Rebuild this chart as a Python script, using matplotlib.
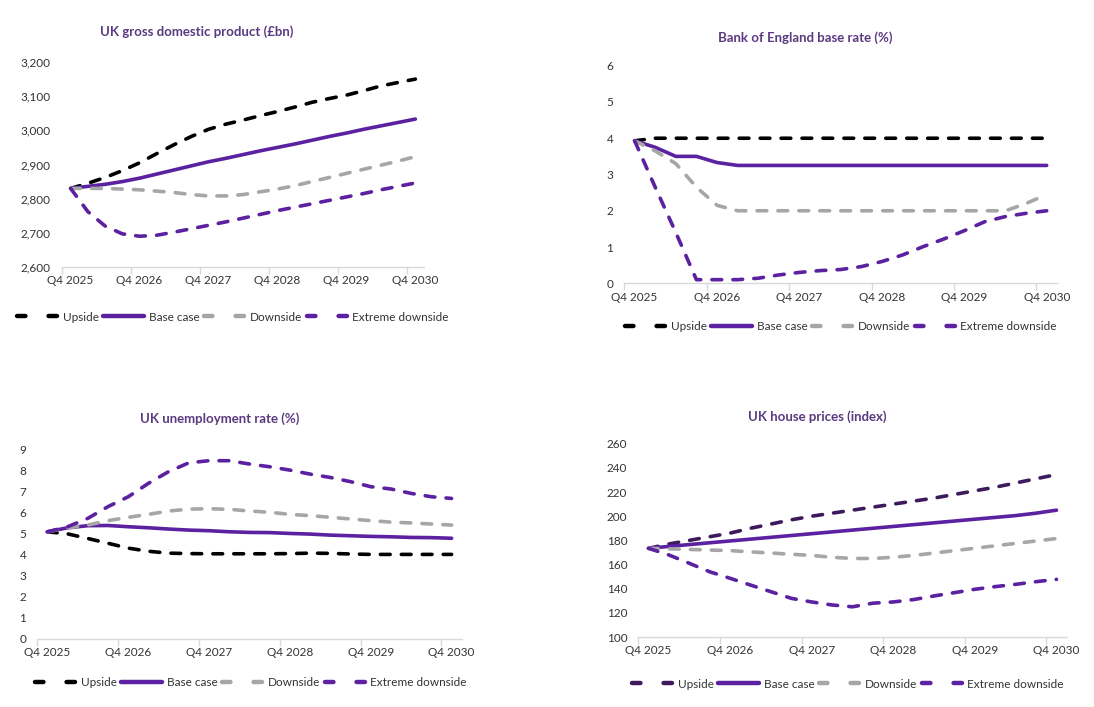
import matplotlib
matplotlib.use("Agg")
import matplotlib.pyplot as plt
from matplotlib.lines import Line2D
import numpy as np

plt.rcParams['font.family'] = ['Lato', 'DejaVu Sans']

W, H = 1094, 707

quarters = ['Q4 2025', 'Q1 2026', 'Q2 2026', 'Q3 2026', 'Q4 2026', 'Q1 2027', 'Q2 2027',
            'Q3 2027', 'Q4 2027', 'Q1 2028', 'Q2 2028', 'Q3 2028', 'Q4 2028', 'Q1 2029',
            'Q2 2029', 'Q3 2029', 'Q4 2029', 'Q1 2030', 'Q2 2030', 'Q3 2030', 'Q4 2030']
series_names = ['Upside', 'Base case', 'Downside', 'Extreme downside']

# UK GDP (£bn)
gdp_upside = [2830, 2845, 2862, 2882, 2905, 2932, 2958, 2982, 3003, 3018, 3030,
              3043, 3055, 3068, 3082, 3093, 3103, 3116, 3130, 3140, 3150]
gdp_base = [2830, 2836, 2842, 2850, 2860, 2872, 2884, 2896, 2908, 2918, 2929,
            2940, 2950, 2960, 2971, 2982, 2992, 3003, 3013, 3023, 3033]
gdp_down = [2830, 2830, 2830, 2828, 2826, 2822, 2818, 2812, 2808, 2808, 2812,
            2820, 2828, 2838, 2850, 2862, 2874, 2886, 2898, 2910, 2923]
gdp_extreme = [2830, 2762, 2720, 2697, 2690, 2693, 2702, 2712, 2722, 2732, 2743,
               2754, 2765, 2775, 2785, 2795, 2805, 2815, 2826, 2836, 2846]

# Bank of England base rate (%)
rate_upside = [3.93, 4.0, 4.0, 4.0, 4.0, 4.0, 4.0, 4.0, 4.0, 4.0, 4.0,
               4.0, 4.0, 4.0, 4.0, 4.0, 4.0, 4.0, 4.0, 4.0, 4.0]
rate_base = [3.93, 3.75, 3.5, 3.5, 3.33, 3.25, 3.25, 3.25, 3.25, 3.25, 3.25,
             3.25, 3.25, 3.25, 3.25, 3.25, 3.25, 3.25, 3.25, 3.25, 3.25]
rate_down = [3.93, 3.65, 3.3, 2.65, 2.15, 2.0, 2.0, 2.0, 2.0, 2.0, 2.0,
             2.0, 2.0, 2.0, 2.0, 2.0, 2.0, 2.0, 2.0, 2.2, 2.45]
rate_extreme = [3.93, 2.65, 1.4, 0.1, 0.1, 0.1, 0.14, 0.23, 0.3, 0.35, 0.38,
                0.46, 0.6, 0.78, 1.01, 1.22, 1.45, 1.7, 1.84, 1.93, 2.0]

# UK unemployment rate (%)
unemp_upside = [5.1, 5.0, 4.78, 4.55, 4.32, 4.17, 4.08, 4.06, 4.05, 4.05, 4.05,
                4.05, 4.06, 4.08, 4.07, 4.04, 4.02, 4.02, 4.02, 4.02, 4.02]
unemp_base = [5.1, 5.29, 5.39, 5.4, 5.34, 5.29, 5.23, 5.18, 5.15, 5.1, 5.07,
              5.06, 5.02, 4.99, 4.94, 4.91, 4.88, 4.86, 4.83, 4.82, 4.79]
unemp_down = [5.1, 5.29, 5.42, 5.63, 5.79, 5.93, 6.09, 6.18, 6.2, 6.17, 6.09,
              6.03, 5.93, 5.87, 5.79, 5.71, 5.63, 5.56, 5.52, 5.47, 5.42]
unemp_extreme = [5.1, 5.34, 5.74, 6.3, 6.77, 7.41, 7.97, 8.39, 8.49, 8.49, 8.33,
                 8.2, 8.04, 7.85, 7.69, 7.49, 7.25, 7.14, 6.93, 6.77, 6.69]

# UK house prices (index)
house_upside = [173.4, 177, 180, 183, 186, 190, 193.5, 197, 200, 202.5, 205,
                207.5, 210, 212.5, 215, 218, 221, 224, 227.5, 231, 234.5]
house_base = [173.4, 175, 176.5, 178, 179.5, 181, 182.5, 184, 185.5, 187, 188.5,
              190, 191.5, 193, 194.5, 196, 197.5, 199, 200.5, 202.5, 205]
house_down = [173.4, 173, 172.5, 172, 171.5, 170.5, 169.5, 168.5, 167.5, 166, 165,
              165, 166, 167.5, 169.5, 171.5, 173.5, 175.5, 177.5, 179.5, 181.5]
house_extreme = [173.4, 167.9, 161, 154, 148.6, 143, 137.5, 132, 129, 126.5, 125,
                 128, 129, 131, 134, 136.7, 139.5, 141.7, 143.6, 145.8, 147.7]

BLACK = '#000000'
PURPLE = '#5b21a0'
GREY = '#a6a6a6'
DARKPURPLE = '#3c1a5c'
TITLE = '#5a3a80'
TEXT = '#333333'

panels = [
    dict(title='UK gross domestic product (£bn)', data=[gdp_upside, gdp_base, gdp_down, gdp_extreme],
         box=(62, 424, 62, 267), ylim=(2600, 3200), step=100, fmt='{:,.0f}',
         title_xy=(197, 32), legend_xy=(233, 317), up_color=BLACK),
    dict(title='Bank of England base rate (%)', data=[rate_upside, rate_base, rate_down, rate_extreme],
         box=(624.3, 1057, 65.7, 283.3), ylim=(0, 6), step=1, fmt='{:.0f}',
         title_xy=(805, 38), legend_xy=(841, 327), up_color=BLACK),
    dict(title='UK unemployment rate (%)', data=[unemp_upside, unemp_base, unemp_down, unemp_extreme],
         box=(37.3, 461.7, 450, 638.7), ylim=(0, 9), step=1, fmt='{:.0f}',
         title_xy=(220, 419), legend_xy=(251, 683), up_color=BLACK),
    dict(title='UK house prices (index)', data=[house_upside, house_base, house_down, house_extreme],
         box=(638.3, 1066.7, 443.7, 637), ylim=(100, 260), step=20, fmt='{:.0f}',
         title_xy=(817, 417), legend_xy=(848, 684), up_color=DARKPURPLE),
]

fig = plt.figure(figsize=(W / 100, H / 100), dpi=100)
x = np.arange(len(quarters))
LW = 2.6
DASH = (2.7, 3.1)

for p in panels:
    l, r, t, b = p['box']
    ax = fig.add_axes([l / W, (H - b) / H, (r - l) / W, (b - t) / H])
    colors = [p['up_color'], PURPLE, GREY, PURPLE]
    styles = ['dash', 'solid', 'dash', 'dash']
    handles = []
    for vals, c, s, name in zip(p['data'], colors, styles, series_names):
        if s == 'solid':
            ax.plot(x, vals, color=c, lw=LW, solid_capstyle='round')
            handles.append(Line2D([], [], color=c, lw=3.2, solid_capstyle='round'))
        else:
            ax.plot(x, vals, color=c, lw=LW, dashes=DASH, dash_capstyle='round')
            handles.append(Line2D([], [], color=c, lw=3.2, dashes=(1.9, 5.2), dash_capstyle='round'))
    ax.set_xlim(-0.5, len(quarters) - 0.5)
    ax.set_ylim(*p['ylim'])
    yt = np.arange(p['ylim'][0], p['ylim'][1] + p['step'] / 2, p['step'])
    ax.set_yticks(yt)
    ax.set_yticklabels([p['fmt'].format(v) for v in yt])
    ax.set_xticks(np.arange(-0.5, len(quarters) - 1, 4))
    ax.set_xticklabels([])
    ax.set_xticks(np.arange(0, len(quarters), 4), minor=True)
    ax.set_xticklabels([quarters[i] for i in range(0, len(quarters), 4)], minor=True)
    ax.tick_params(axis='x', which='major', length=5, color='#d9d9d9', width=1)
    ax.tick_params(axis='x', which='minor', length=0, pad=6, labelsize=8.5, labelcolor=TEXT)
    ax.tick_params(axis='y', length=0, pad=8, labelsize=8.5, labelcolor=TEXT)
    for sp in ['top', 'right', 'left']:
        ax.spines[sp].set_visible(False)
    ax.spines['bottom'].set_color('#d9d9d9')
    ax.spines['bottom'].set_linewidth(1)
    ax.patch.set_alpha(0)
    fig.text(p['title_xy'][0] / W, 1 - p['title_xy'][1] / H, p['title'], ha='center', va='center',
             fontsize=9.5, fontweight='bold', color=TITLE)
    fig.legend(handles=handles, labels=series_names, loc='center',
               bbox_to_anchor=(p['legend_xy'][0] / W, 1 - p['legend_xy'][1] / H),
               ncol=4, frameon=False, fontsize=8.5, handlelength=3.4, handletextpad=0.45,
               columnspacing=0.4, labelcolor=TEXT)

fig.savefig('out.png', dpi=100, facecolor='white')
